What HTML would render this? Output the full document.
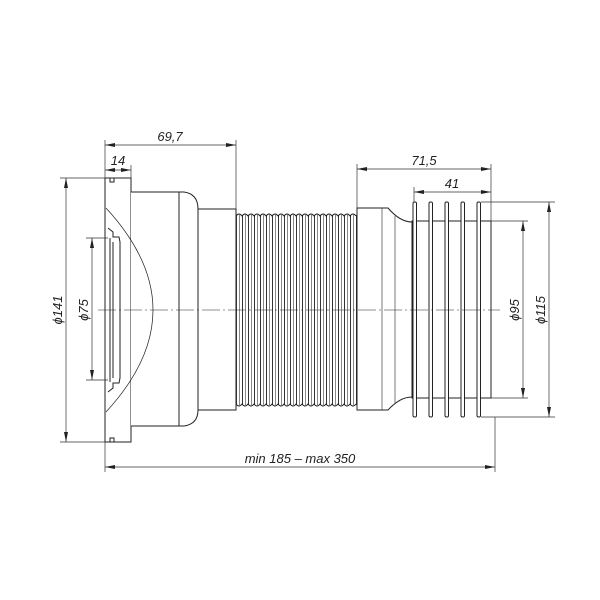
<!DOCTYPE html>
<html><head><meta charset="utf-8"><style>
html,body{margin:0;padding:0;background:#fff}
svg{display:block}
text{font-family:"Liberation Sans",sans-serif;font-style:italic;font-size:13px;fill:#222}
</style></head><body>
<svg width="600" height="600" viewBox="0 0 600 600" xmlns="http://www.w3.org/2000/svg">
<defs>
<pattern id="rib" x="236" y="0" width="6" height="600" patternUnits="userSpaceOnUse">
<line x1="0.5" y1="0" x2="0.5" y2="600" stroke="#333" stroke-width="1"/>
<line x1="3.5" y1="0" x2="3.5" y2="600" stroke="#555" stroke-width="0.7"/>
</pattern>
<marker id="a" viewBox="0 0 10 4" refX="10" refY="2" markerWidth="10" markerHeight="4" orient="auto-start-reverse" markerUnits="userSpaceOnUse"><path d="M0,0 L10,2 L0,4z" fill="#222"/></marker>
</defs>
<g fill="none" stroke="#222" stroke-width="1">
<rect x="105" y="178" width="26" height="264" fill="#fff"/>
<path d="M110,178 v4 h4 v-4 M110,442 v-4 h4 v4"/>
<path d="M131,192 H184 Q198,194 198,209 V410 Q198,424 184,426 H131" fill="#fff"/>
<line x1="179" y1="192" x2="179" y2="426"/>
<rect x="198" y="209" width="38" height="201" fill="#fff"/>
<path d="M106,208 Q200,310 106,412" stroke-width="0.7"/>
<path d="M108,228 l5,4 v5 h6 l1,5 V378 l-1,5 h-6 v5 l-5,4"/>
<line x1="110" y1="238" x2="110" y2="382"/>
<line x1="113" y1="242" x2="113" y2="378"/>
<rect x="236" y="215" width="121" height="190" fill="url(#rib)" stroke="none"/>
<path d="M236,216 q3,-4 6,0 q3,-4 6,0 q3,-4 6,0 q3,-4 6,0 q3,-4 6,0 q3,-4 6,0 q3,-4 6,0 q3,-4 6,0 q3,-4 6,0 q3,-4 6,0 q3,-4 6,0 q3,-4 6,0 q3,-4 6,0 q3,-4 6,0 q3,-4 6,0 q3,-4 6,0 q3,-4 6,0 q3,-4 6,0 q3,-4 6,0 q3,-4 6,0"/>
<path d="M236,404 q3,4 6,0 q3,4 6,0 q3,4 6,0 q3,4 6,0 q3,4 6,0 q3,4 6,0 q3,4 6,0 q3,4 6,0 q3,4 6,0 q3,4 6,0 q3,4 6,0 q3,4 6,0 q3,4 6,0 q3,4 6,0 q3,4 6,0 q3,4 6,0 q3,4 6,0 q3,4 6,0 q3,4 6,0 q3,4 6,0"/>
<path d="M357,208 H388 Q400,222 412,222 V397 Q400,397 388,410 H357 Z" fill="#fff"/>
<line x1="382" y1="208" x2="382" y2="410" stroke-width="0.6"/>
<line x1="395" y1="216" x2="395" y2="403" stroke-width="0.6"/>
<rect x="412" y="221" width="79" height="177" fill="#fff"/>
<rect x="413" y="202" width="3.5" height="215" rx="1.5" fill="#fff"/>
<rect x="429" y="202" width="3.5" height="215" rx="1.5" fill="#fff"/>
<rect x="445" y="202" width="3.5" height="215" rx="1.5" fill="#fff"/>
<rect x="461" y="202" width="3.5" height="215" rx="1.5" fill="#fff"/>
<rect x="477" y="202" width="3.5" height="215" rx="1.5" fill="#fff"/>
<line x1="98" y1="310" x2="500" y2="310" stroke-width="0.6" stroke-dasharray="18,3,2,3"/>
</g>
<g fill="none" stroke="#333" stroke-width="0.7">
<line x1="105" y1="140" x2="105" y2="178"/><line x1="105" y1="442" x2="105" y2="472"/>
<line x1="131" y1="165" x2="131" y2="178"/>
<line x1="236" y1="140" x2="236" y2="209"/>
<line x1="357" y1="164" x2="357" y2="208"/>
<line x1="491" y1="164" x2="491" y2="221"/>
<line x1="414" y1="187" x2="414" y2="202"/>
<line x1="60" y1="178" x2="105" y2="178"/><line x1="60" y1="442" x2="105" y2="442"/>
<line x1="86" y1="238" x2="108" y2="238"/><line x1="86" y1="380" x2="108" y2="380"/>
<line x1="491" y1="221" x2="528" y2="221"/><line x1="491" y1="398" x2="528" y2="398"/>
<line x1="481" y1="202" x2="555" y2="202"/><line x1="481" y1="417" x2="555" y2="417"/>
<line x1="495" y1="417" x2="495" y2="472"/>
<line x1="105" y1="145" x2="236" y2="145" marker-start="url(#a)" marker-end="url(#a)"/>
<line x1="105" y1="170" x2="131" y2="170" marker-start="url(#a)" marker-end="url(#a)"/>
<line x1="357" y1="169" x2="491" y2="169" marker-start="url(#a)" marker-end="url(#a)"/>
<line x1="414" y1="192" x2="491" y2="192" marker-start="url(#a)" marker-end="url(#a)"/>
<line x1="66" y1="178" x2="66" y2="442" marker-start="url(#a)" marker-end="url(#a)"/>
<line x1="92" y1="238" x2="92" y2="380" marker-start="url(#a)" marker-end="url(#a)"/>
<line x1="523" y1="221" x2="523" y2="398" marker-start="url(#a)" marker-end="url(#a)"/>
<line x1="549" y1="202" x2="549" y2="417" marker-start="url(#a)" marker-end="url(#a)"/>
<line x1="105" y1="467" x2="495" y2="467" marker-start="url(#a)" marker-end="url(#a)"/>
</g>
<text x="170" y="141" text-anchor="middle">69,7</text>
<text x="118" y="165" text-anchor="middle">14</text>
<text x="424" y="165" text-anchor="middle">71,5</text>
<text x="452" y="188" text-anchor="middle">41</text>
<text x="300" y="463" text-anchor="middle">min 185 – max 350</text>
<text transform="translate(62,310) rotate(-90)" text-anchor="middle">ϕ141</text>
<text transform="translate(88,310) rotate(-90)" text-anchor="middle">ϕ75</text>
<text transform="translate(519,310) rotate(-90)" text-anchor="middle">ϕ95</text>
<text transform="translate(545,310) rotate(-90)" text-anchor="middle">ϕ115</text>
</svg>
</body></html>
